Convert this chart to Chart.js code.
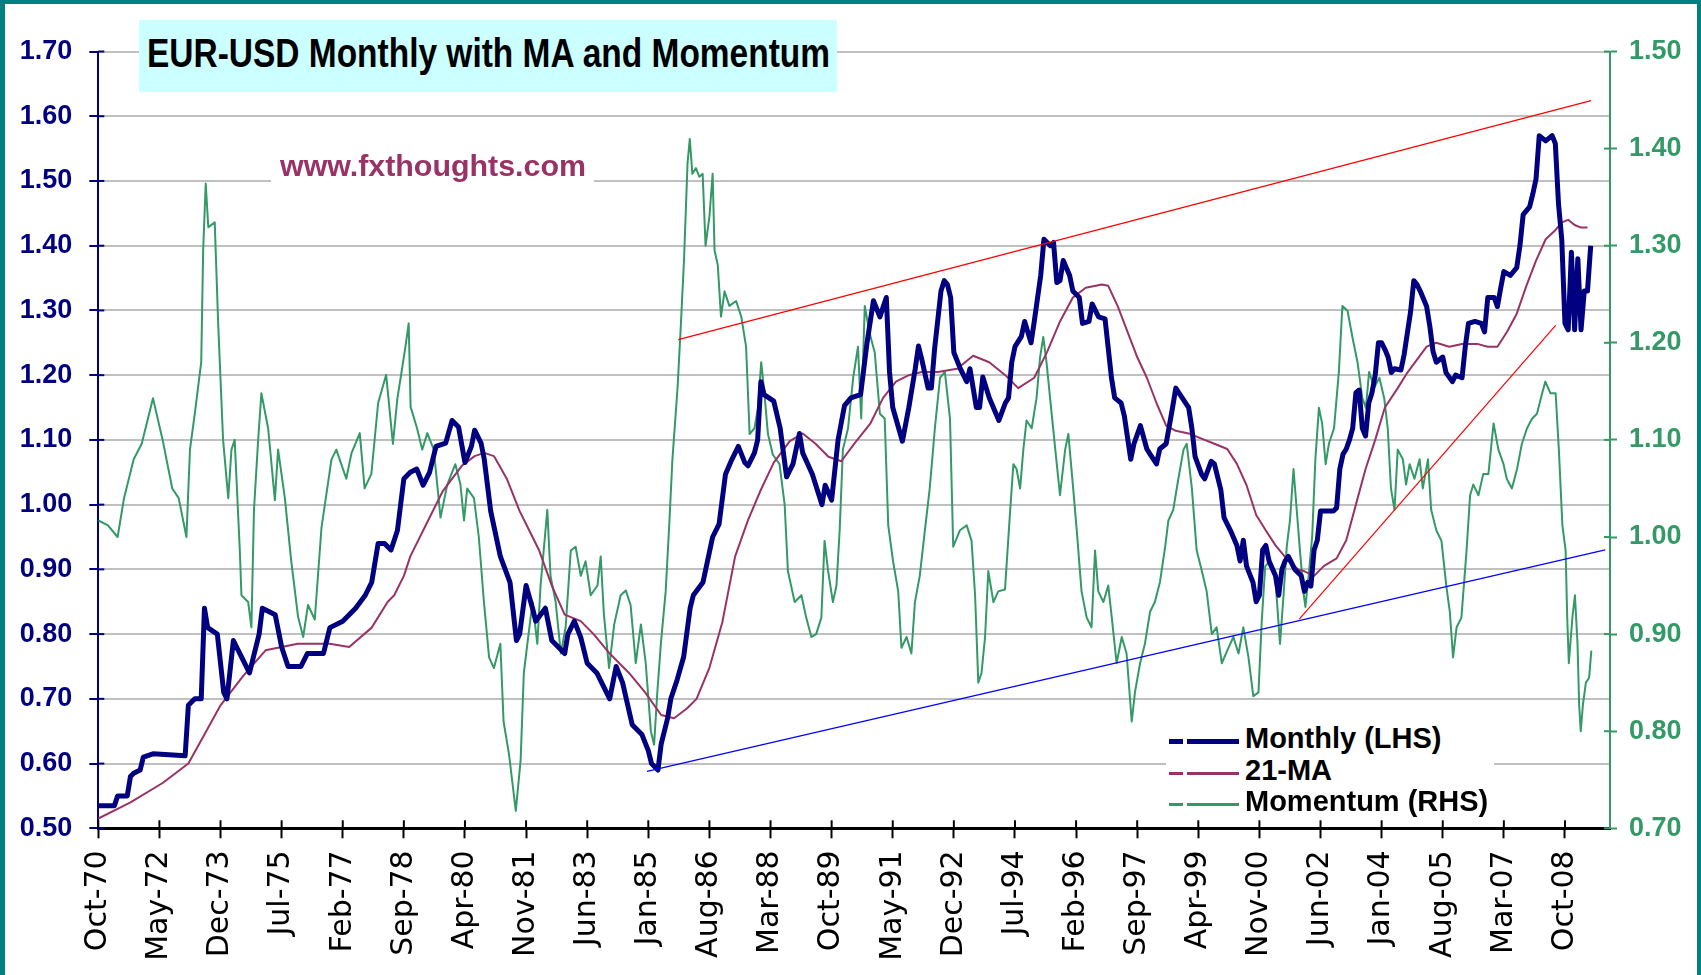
<!DOCTYPE html>
<html lang="en">
<head>
<meta charset="UTF-8" />
<title>EUR-USD Monthly with MA and Momentum</title>
<script src="https://cdn.jsdelivr.net/npm/chart.js@4.4.1/dist/chart.umd.min.js"></script>
<style>
  html, body { margin: 0; padding: 0; }
  body { width: 1701px; height: 975px; background: #008080; position: relative; overflow: hidden; }
  #wrap { position: absolute; left: 5px; top: 4px; width: 1692px; height: 971px; background: #fff; }
  .box { position: absolute; white-space: nowrap; }
  #title { left: 139px; top: 20px; width: 698px; height: 72px; background: #ccffff; }
  #title span { position: absolute; left: 8px; top: 13px; font: bold 41px/1 "Liberation Sans Narrow", "Liberation Sans", Arial, sans-serif; color: #000; transform-origin: left center; }
  #site { left: 271px; top: 150px; width: 323px; height: 40px; background: #fff; }
  #site span { position: absolute; left: 9px; top: 1px; font: bold 30px/1 "Liberation Sans", Arial, sans-serif; color: #993366; transform-origin: left center; }
  #legend { left: 1166px; top: 722px; width: 328px; height: 93px; background: #fff; }
  .row { position: absolute; left: 0; height: 32px; width: 328px; }
  .row span { position: absolute; left: 79px; top: 0; font: bold 29px/1 "Liberation Sans", Arial, sans-serif; color: #000; }
  .row i { position: absolute; left: 3px; width: 70px; }
</style>
</head>
<body>
<div id="wrap"><canvas id="myChart"></canvas></div>
<div class="box" id="title"><span>EUR-USD Monthly with MA and Momentum</span></div>
<div class="box" id="site"><span>www.fxthoughts.com</span></div>
<div class="box" id="legend">
  <div class="row" style="top:2px"><i style="top:15px;height:5px;background:linear-gradient(to right,#000080 0 14px,transparent 14px 18px,#000080 18px)"></i><span>Monthly (LHS)</span></div>
  <div class="row" style="top:34px"><i style="top:16px;height:3px;background:linear-gradient(to right,#993366 0 14px,transparent 14px 18px,#993366 18px)"></i><span>21-MA</span></div>
  <div class="row" style="top:65px"><i style="top:16px;height:3px;background:linear-gradient(to right,#339966 0 14px,transparent 14px 18px,#339966 18px)"></i><span>Momentum (RHS)</span></div>
</div>
<script>
// month index 0 = Oct-70
const xTickMonths = [0,19,38,57,76,95,114,133,152,171,190,209,228,247,266,285,304,323,342,361,380,399,418,437,456];
const xLabels = ['Oct-70','May-72','Dec-73','Jul-75','Feb-77','Sep-78','Apr-80','Nov-81','Jun-83','Jan-85','Aug-86','Mar-88','Oct-89','May-91','Dec-92','Jul-94','Feb-96','Sep-97','Apr-99','Nov-00','Jun-02','Jan-04','Aug-05','Mar-07','Oct-08'];

// EUR-USD monthly close (LHS)
const monthly = [[0,0.535],[5,0.535],[6,0.55],[9,0.55],[10,0.58],[11,0.585],[13,0.59],[14,0.61],[17,0.615],[27,0.612],[28,0.69],[30,0.70],[32,0.70],[33,0.84],[34,0.81],[37,0.80],[39,0.71],[40,0.70],[42,0.79],[43,0.78],[47,0.74],[48,0.76],[50,0.80],[51,0.84],[53,0.835],[55,0.83],[57,0.78],[59,0.75],[63,0.75],[65,0.77],[70,0.77],[72,0.81],[76,0.82],[78,0.83],[80,0.84],[83,0.86],[85,0.88],[87,0.94],[89,0.94],[91,0.93],[93,0.96],[95,1.04],[97,1.05],[99,1.055],[101,1.03],[103,1.05],[105,1.09],[108,1.095],[110,1.13],[112,1.12],[114,1.065],[116,1.09],[117,1.115],[119,1.095],[120,1.07],[122,0.99],[125,0.92],[128,0.88],[130,0.79],[131,0.80],[133,0.875],[135,0.84],[136,0.82],[139,0.84],[141,0.79],[145,0.77],[146,0.80],[148,0.82],[150,0.795],[152,0.755],[155,0.74],[157,0.72],[159,0.70],[161,0.75],[163,0.725],[166,0.66],[169,0.645],[171,0.62],[172,0.60],[174,0.59],[175,0.63],[177,0.67],[178,0.70],[180,0.73],[182,0.765],[184,0.84],[185,0.86],[188,0.88],[191,0.95],[193,0.97],[195,1.047],[197,1.07],[199,1.09],[201,1.065],[202,1.06],[204,1.08],[205,1.10],[206,1.19],[207,1.17],[210,1.16],[212,1.118],[214,1.043],[216,1.063],[218,1.11],[219,1.08],[222,1.047],[225,1.00],[226,1.03],[228,1.007],[230,1.10],[232,1.153],[234,1.165],[237,1.17],[238,1.21],[239,1.25],[241,1.315],[243,1.29],[245,1.32],[246,1.205],[247,1.15],[250,1.098],[252,1.15],[254,1.21],[255,1.245],[256,1.225],[258,1.18],[259,1.18],[260,1.24],[262,1.33],[263,1.346],[264,1.34],[265,1.32],[266,1.235],[268,1.21],[270,1.19],[271,1.21],[273,1.15],[274,1.15],[275,1.197],[277,1.165],[280,1.13],[282,1.157],[283,1.165],[284,1.22],[285,1.244],[287,1.26],[288,1.283],[290,1.25],[291,1.283],[293,1.354],[294,1.41],[296,1.40],[297,1.405],[298,1.343],[299,1.346],[300,1.377],[302,1.354],[303,1.33],[305,1.32],[306,1.28],[308,1.283],[309,1.31],[311,1.29],[313,1.287],[315,1.196],[316,1.165],[318,1.157],[319,1.137],[321,1.07],[322,1.094],[324,1.122],[326,1.086],[327,1.078],[329,1.063],[330,1.086],[332,1.094],[334,1.15],[335,1.18],[337,1.165],[339,1.15],[340,1.118],[341,1.074],[343,1.047],[344,1.04],[346,1.067],[347,1.063],[349,1.023],[350,0.98],[352,0.96],[354,0.937],[355,0.913],[356,0.945],[357,0.905],[359,0.88],[360,0.85],[361,0.86],[362,0.93],[363,0.937],[364,0.913],[366,0.89],[367,0.86],[368,0.90],[369,0.913],[370,0.92],[372,0.90],[374,0.89],[375,0.866],[376,0.88],[377,0.874],[378,0.93],[379,0.945],[380,0.99],[384,0.99],[385,0.995],[386,1.055],[387,1.078],[388,1.086],[389,1.10],[390,1.118],[391,1.173],[392,1.177],[393,1.118],[394,1.106],[395,1.157],[396,1.173],[397,1.20],[398,1.25],[399,1.25],[400,1.24],[401,1.228],[402,1.204],[403,1.21],[405,1.208],[406,1.232],[408,1.298],[409,1.346],[410,1.34],[411,1.33],[413,1.306],[414,1.275],[415,1.236],[416,1.22],[418,1.228],[419,1.204],[421,1.19],[422,1.20],[424,1.196],[425,1.244],[426,1.28],[428,1.283],[430,1.28],[431,1.267],[432,1.32],[434,1.32],[435,1.306],[436,1.334],[437,1.36],[439,1.354],[441,1.366],[442,1.40],[443,1.448],[445,1.46],[446,1.48],[447,1.503],[448,1.57],[450,1.562],[452,1.57],[453,1.558],[454,1.464],[455,1.41],[456,1.28],[457,1.27],[458,1.39],[459,1.27],[460,1.38],[461,1.27],[462,1.33],[463,1.33],[464,1.40]];

// 21-month moving average (LHS)
const ma21 = [[0,0.515],[10,0.54],[20,0.57],[28,0.60],[33,0.645],[38,0.69],[45,0.735],[52,0.775],[57,0.78],[62,0.785],[72,0.785],[78,0.78],[85,0.81],[90,0.85],[92,0.86],[95,0.89],[97,0.92],[102,0.97],[107,1.02],[113,1.06],[117,1.075],[120,1.08],[123,1.075],[127,1.04],[131,0.99],[134,0.96],[137,0.93],[141,0.875],[145,0.83],[150,0.82],[154,0.80],[159,0.77],[165,0.74],[170,0.71],[175,0.675],[179,0.67],[183,0.685],[186,0.70],[190,0.748],[194,0.818],[198,0.92],[202,0.976],[206,1.023],[210,1.065],[215,1.098],[219,1.11],[223,1.094],[227,1.074],[231,1.067],[235,1.094],[240,1.125],[244,1.165],[248,1.19],[252,1.20],[256,1.205],[261,1.205],[267,1.21],[272,1.23],[277,1.22],[282,1.20],[286,1.18],[291,1.196],[295,1.236],[299,1.283],[303,1.32],[307,1.335],[312,1.34],[314,1.338],[317,1.306],[320,1.267],[323,1.228],[326,1.196],[329,1.157],[332,1.122],[335,1.114],[339,1.11],[343,1.102],[347,1.094],[351,1.086],[354,1.063],[357,1.03],[360,0.984],[363,0.96],[366,0.937],[370,0.913],[373,0.90],[375,0.897],[378,0.89],[381,0.905],[385,0.917],[388,0.945],[391,1.0],[394,1.055],[397,1.10],[400,1.15],[404,1.18],[407,1.204],[410,1.224],[413,1.244],[416,1.25],[420,1.244],[424,1.248],[429,1.248],[432,1.244],[435,1.244],[438,1.267],[441,1.295],[444,1.338],[447,1.377],[450,1.41],[453,1.424],[455,1.436],[457,1.44],[459,1.432],[461,1.428],[463,1.428]];

// momentum (RHS)
const momentum = [[0,1.017],[3,1.012],[6,1.00],[8,1.04],[11,1.08],[13.5,1.096],[17,1.143],[20,1.10],[23,1.05],[25,1.04],[27.4,1.00],[28.5,1.09],[30,1.127],[32,1.18],[32.6,1.295],[33.4,1.364],[34.2,1.319],[36.2,1.324],[37.3,1.217],[38.8,1.10],[40.4,1.04],[41.4,1.09],[42.4,1.10],[44,0.986],[44.5,0.94],[46.6,0.933],[47.6,0.907],[48.4,1.028],[49.7,1.10],[50.7,1.148],[52.8,1.112],[54.9,1.038],[55.9,1.09],[58,1.04],[60,0.975],[62.1,0.918],[63.7,0.897],[65.2,0.93],[67.3,0.915],[69.4,1.01],[72.5,1.08],[74,1.09],[77.1,1.06],[78.7,1.086],[81.3,1.107],[82.8,1.05],[84.9,1.065],[87,1.138],[89.5,1.167],[91.6,1.096],[93,1.143],[94,1.164],[95.5,1.196],[96.5,1.22],[97.1,1.134],[99.1,1.112],[100.7,1.09],[102.3,1.107],[104.3,1.09],[106.4,1.02],[108.5,1.054],[111,1.075],[112.6,1.054],[113.7,1.017],[114.7,1.05],[116.8,1.04],[118.3,1.00],[119.9,0.933],[121.5,0.876],[123,0.865],[125,0.89],[126,0.81],[127.7,0.776],[129.8,0.718],[131.3,0.77],[132.3,0.86],[133.4,0.89],[135,0.933],[136.5,0.89],[137.5,0.95],[139.6,1.028],[140.6,0.96],[142.2,0.933],[143.8,0.88],[145.3,0.907],[146.9,0.986],[148.4,0.99],[150,0.96],[151.5,0.975],[153.1,0.94],[155.2,0.95],[156.2,0.98],[157.2,0.92],[158.8,0.865],[160.4,0.91],[162.4,0.94],[164,0.945],[165.5,0.93],[167.1,0.87],[168.7,0.91],[170.2,0.87],[171.8,0.80],[172.8,0.786],[173.8,0.84],[174.9,0.89],[176.4,0.944],[177.5,1.012],[178.5,1.08],[180.1,1.154],[181.1,1.217],[182.1,1.285],[183.2,1.385],[183.9,1.41],[184.7,1.374],[185.8,1.38],[186.9,1.371],[187.9,1.374],[188.8,1.30],[190,1.33],[191,1.374],[191.6,1.295],[192.6,1.28],[193.6,1.227],[194.7,1.253],[196.2,1.238],[198.3,1.243],[199.9,1.227],[201.4,1.196],[202.5,1.106],[204,1.112],[205.1,1.133],[206.1,1.18],[207.1,1.148],[208.2,1.106],[209.7,1.085],[211.8,1.075],[213.4,1.033],[214.4,0.965],[216.5,0.933],[218.6,0.94],[220.1,0.917],[221.7,0.897],[223.2,0.90],[224.8,0.917],[225.8,0.996],[226.9,0.965],[228.4,0.933],[229.5,0.95],[230.5,1.007],[231.5,1.09],[233.1,1.112],[234.7,1.164],[236.2,1.196],[237.2,1.122],[238.3,1.238],[239.8,1.21],[241.4,1.19],[243,1.127],[244.5,1.122],[245.6,1.012],[247.1,0.975],[248.7,0.944],[249.7,0.886],[251.3,0.897],[252.8,0.88],[253.9,0.933],[255.4,0.96],[257,1.007],[258.5,1.05],[260.1,1.112],[261.7,1.164],[263.2,1.17],[264.8,1.122],[265.8,0.99],[267.9,1.007],[270,1.012],[271.5,0.996],[272.6,0.94],[273.6,0.85],[274.6,0.86],[275.7,0.897],[276.7,0.965],[278.3,0.933],[279.8,0.944],[281.9,0.946],[283.4,1.022],[284.5,1.075],[285.5,1.07],[286.6,1.05],[287.6,1.09],[288.6,1.12],[290.2,1.112],[291.7,1.143],[292.8,1.185],[293.8,1.206],[294.8,1.18],[296.4,1.127],[298,1.075],[299,1.043],[300.6,1.09],[301.6,1.106],[303.1,1.05],[304.2,1.007],[305.7,0.944],[307.3,0.917],[308.8,0.907],[309.9,0.986],[310.9,0.944],[312.5,0.933],[314,0.95],[315.1,0.917],[316.6,0.87],[318.2,0.897],[319.7,0.88],[321.3,0.81],[322.3,0.84],[323.9,0.87],[325.4,0.89],[327,0.923],[328.5,0.933],[330.1,0.954],[331.7,0.99],[332.7,1.017],[334.2,1.028],[335.8,1.06],[337.4,1.09],[338.4,1.096],[340,1.05],[341.5,0.986],[343.1,0.965],[344.6,0.944],[346.2,0.90],[347.7,0.907],[349.3,0.87],[351.4,0.886],[352.9,0.897],[354.5,0.88],[356,0.907],[357.6,0.876],[359.1,0.836],[360.7,0.84],[361.7,0.912],[362.8,0.97],[364.3,0.975],[365.9,0.96],[367.4,0.89],[368.5,0.94],[369.5,0.99],[370.5,1.017],[371.6,1.07],[372.6,1.028],[373.6,0.986],[374.8,0.94],[375.3,0.928],[376.3,0.96],[377.4,1.0],[378.4,1.08],[379.5,1.133],[380.5,1.117],[381.6,1.075],[382.6,1.096],[384.2,1.112],[385.7,1.17],[386.8,1.238],[388.4,1.233],[389.9,1.206],[391.5,1.18],[393,1.143],[394.1,1.133],[395.1,1.17],[396.7,1.154],[398.3,1.164],[399.8,1.143],[400.9,1.112],[401.9,1.05],[403,1.028],[404,1.09],[405.6,1.08],[406.6,1.054],[407.7,1.075],[409.2,1.06],[410.8,1.08],[411.8,1.05],[413.4,1.08],[414.4,1.028],[416,1.007],[417.6,0.996],[419.1,0.95],[420.2,0.923],[421.2,0.876],[422.3,0.907],[423.8,0.917],[425.4,0.986],[426.5,1.043],[427.5,1.054],[429.1,1.043],[430.6,1.065],[432.2,1.065],[433.8,1.117],[435.3,1.09],[436.9,1.075],[437.9,1.06],[439.5,1.05],[441.1,1.07],[442.6,1.096],[444.2,1.112],[445.8,1.122],[447.3,1.127],[448.9,1.148],[449.9,1.16],[451.5,1.148],[453.1,1.148],[454.1,1.09],[455.2,1.012],[456.2,0.986],[456.7,0.917],[457.2,0.87],[458.3,0.917],[459.1,0.94],[459.9,0.89],[460.4,0.828],[460.9,0.80],[461.6,0.828],[462.5,0.85],[463.5,0.855],[464.2,0.883]];

// hand-drawn trend lines (LHS values)
const trendUpper = [[180.3,1.255],[464.1,1.624]];
const trendLower = [[170.6,0.588],[468.5,0.930]];
const trendRecent = [[373.4,0.823],[453.1,1.277]];

const axisFont = '"Liberation Sans", Arial, sans-serif';

// inner half of the cross tick marks
const crossTicks = {
  id: 'crossTicks',
  afterDraw(chart) {
    const c = chart.ctx, a = chart.chartArea;
    c.save();
    c.lineWidth = 2;
    const draw = (scale, color, fn) => {
      c.strokeStyle = color;
      scale.ticks.forEach(t => {
        const p = scale.getPixelForValue(t.value);
        c.beginPath(); fn(p); c.stroke();
      });
    };
    draw(chart.scales.y, '#000080', p => { c.moveTo(a.left, p); c.lineTo(a.left + 6, p); });
    draw(chart.scales.y2, '#339966', p => { c.moveTo(a.right - 6, p); c.lineTo(a.right, p); });
    draw(chart.scales.x, '#000', p => { c.moveTo(p, a.bottom - 8); c.lineTo(p, a.bottom); });
    c.restore();
  }
};

const ctx = document.getElementById('myChart');
const line = (label, data, color, width, axis) => ({
  label, data, borderColor: color, borderWidth: width, yAxisID: axis,
  pointRadius: 0, tension: 0, fill: false, borderJoinStyle: 'round'
});

new Chart(ctx, {
  type: 'line',
  data: {
    datasets: [
      line('trend1', trendUpper, '#ff0000', 1.2, 'y'),
      line('trend2', trendLower, '#0000ff', 1.2, 'y'),
      line('trend3', trendRecent, '#ff0000', 1.2, 'y'),
      line('Monthly (LHS)', monthly, '#000080', 5, 'y'),
      line('21-MA', ma21, '#993366', 2, 'y'),
      line('Momentum (RHS)', momentum, '#339966', 2, 'y2')
    ]
  },
  options: {
    responsive: true,
    maintainAspectRatio: false,
    animation: false,
    layout: { padding: { top: 47.5, left: 0, right: 0, bottom: 0 } },
    plugins: { legend: { display: false }, tooltip: { enabled: false } },
    scales: {
      x: {
        type: 'linear', min: 0, max: 470,
        afterBuildTicks: s => { s.ticks = xTickMonths.map(v => ({ value: v })); },
        afterFit: s => { s.height = 146.7; },
        grid: { drawOnChartArea: false, tickLength: 10, tickColor: '#000', tickWidth: 2 },
        border: { color: '#000', width: 3 },
        ticks: {
          autoSkip: false, minRotation: 90, maxRotation: 90, padding: 12, color: '#000',
          font: { family: '"DejaVu Sans", sans-serif', size: 30 },
          callback: v => xLabels[xTickMonths.indexOf(v)] || ''
        }
      },
      y: {
        position: 'left', min: 0.5, max: 1.7,
        afterFit: s => { s.width = 93.3; },
        grid: { color: '#c0c0c0', lineWidth: 2, tickColor: '#000080', tickLength: 9, tickWidth: 2 },
        border: { color: '#000080', width: 2 },
        ticks: { stepSize: 0.1, padding: 17, color: '#000080', font: { family: axisFont, size: 27, weight: 'bold' }, callback: v => v.toFixed(2) }
      },
      y2: {
        position: 'right', min: 0.7, max: 1.5,
        afterFit: s => { s.width = 87; },
        grid: { drawOnChartArea: false, tickColor: '#339966', tickLength: 7, tickWidth: 2 },
        border: { color: '#339966', width: 2 },
        ticks: { stepSize: 0.1, padding: 12, color: '#339966', font: { family: axisFont, size: 27, weight: 'bold' }, callback: v => v.toFixed(2) }
      }
    }
  },
  plugins: [crossTicks]
});

// squeeze the title to the reference width
function fitTo(el, w) {
  const r = el.getBoundingClientRect().width;
  if (r > 0) el.style.transform = 'scaleX(' + (w / r) + ')';
}
fitTo(document.querySelector('#title span'), 683);
fitTo(document.querySelector('#site span'), 306);
</script>
</body>
</html>
